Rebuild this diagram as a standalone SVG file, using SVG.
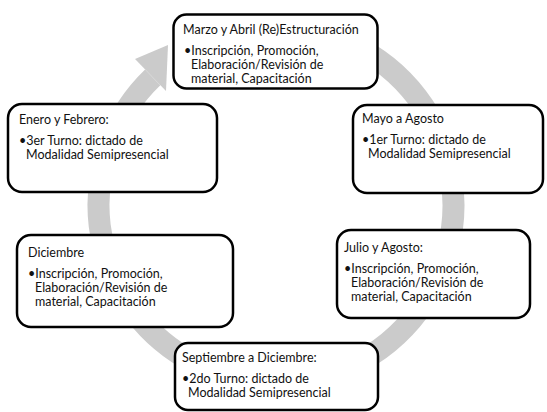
<svg xmlns="http://www.w3.org/2000/svg" width="547" height="412" viewBox="0 0 547 412">
<style>
.box{fill:#ffffff;stroke:#000000;stroke-width:2.5}
.t{font-family:Lato,"Liberation Sans",sans-serif;font-size:12.5px;fill:#111111}
.ring{fill:none;stroke:#cbcbcb;stroke-width:22}
</style>
<rect width="547" height="412" fill="#ffffff"/>
<g id="connectors">
<path class="ring" d="M276 27.5 A177.5 177.5 0 1 1 152.7 77.3"/>
<polygon points="135,59 168,45 166,91" fill="#cbcbcb"/>
</g>
<g id="node-marzo">
<rect class="box" x="173.5" y="14.5" width="204" height="74" rx="13"/>
<text class="t" x="183" y="34">Marzo y Abril (Re)Estructuración</text>
<text class="t" x="184" y="55">•Inscripción, Promoción,</text>
<text class="t" x="191" y="69">Elaboración/Revisión de</text>
<text class="t" x="191" y="83">material, Capacitación</text>
</g>
<g id="node-enero">
<rect class="box" x="8" y="104" width="209" height="88" rx="14"/>
<text class="t" x="19" y="124">Enero y Febrero:</text>
<text class="t" x="19" y="145">•3er Turno: dictado de</text>
<text class="t" x="26" y="159">Modalidad Semipresencial</text>
</g>
<g id="node-mayo">
<rect class="box" x="353" y="105" width="190" height="88" rx="14"/>
<text class="t" x="362" y="123">Mayo a Agosto</text>
<text class="t" x="362" y="144">•1er Turno: dictado de</text>
<text class="t" x="368" y="158">Modalidad Semipresencial</text>
</g>
<g id="node-diciembre">
<rect class="box" x="17" y="235" width="216" height="92" rx="14"/>
<text class="t" x="28" y="257">Diciembre</text>
<text class="t" x="28" y="278">•Inscripción, Promoción,</text>
<text class="t" x="35" y="292">Elaboración/Revisión de</text>
<text class="t" x="35" y="306">material, Capacitación</text>
</g>
<g id="node-julio">
<rect class="box" x="337" y="230" width="193" height="88" rx="14"/>
<text class="t" x="344" y="252">Julio y Agosto:</text>
<text class="t" x="344" y="273">•Inscripción, Promoción,</text>
<text class="t" x="351" y="287">Elaboración/Revisión de</text>
<text class="t" x="351" y="301">material, Capacitación</text>
</g>
<g id="node-septiembre">
<rect class="box" x="175" y="343" width="203" height="67" rx="13"/>
<text class="t" x="182" y="362">Septiembre a Diciembre:</text>
<text class="t" x="182" y="383">•2do Turno: dictado de</text>
<text class="t" x="188" y="397">Modalidad Semipresencial</text>
</g>
</svg>
